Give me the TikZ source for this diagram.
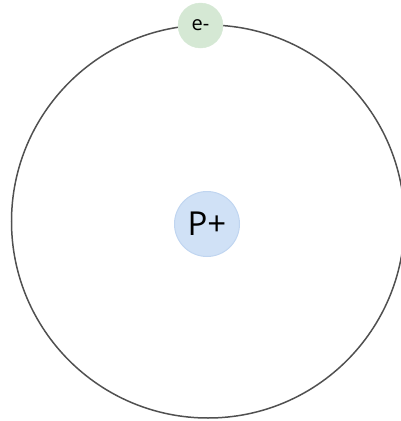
\documentclass[tikz,border=0pt]{standalone}
\usepackage{fontspec}
\setmainfont{Open Sans}
\definecolor{orbit}{HTML}{505050}
\definecolor{pfill}{HTML}{D0E1F6}
\definecolor{pdraw}{HTML}{C0D5F0}
\definecolor{efill}{HTML}{D5E8D4}
\begin{document}
\begin{tikzpicture}[x=1pt,y=-1pt,
  orbitstyle/.style={draw=orbit,line width=1.5pt,circle,minimum size=393pt,inner sep=0pt},
  proton/.style={circle,fill=pfill,draw=pdraw,line width=1pt,minimum size=65pt,inner sep=0pt,font=\fontsize{33}{33}\selectfont},
  electron/.style={circle,fill=efill,draw=efill,minimum size=45pt,inner sep=0pt,font=\fontsize{20}{20}\selectfont}]
\useasboundingbox (0,0) rectangle (401,421);
\node[orbitstyle] (orbit) at (208,221.5) {};
\node[proton] (p) at (207,224) {P+};
\node[electron] (e) at (200.5,25.5) {e-};
\end{tikzpicture}
\end{document}
